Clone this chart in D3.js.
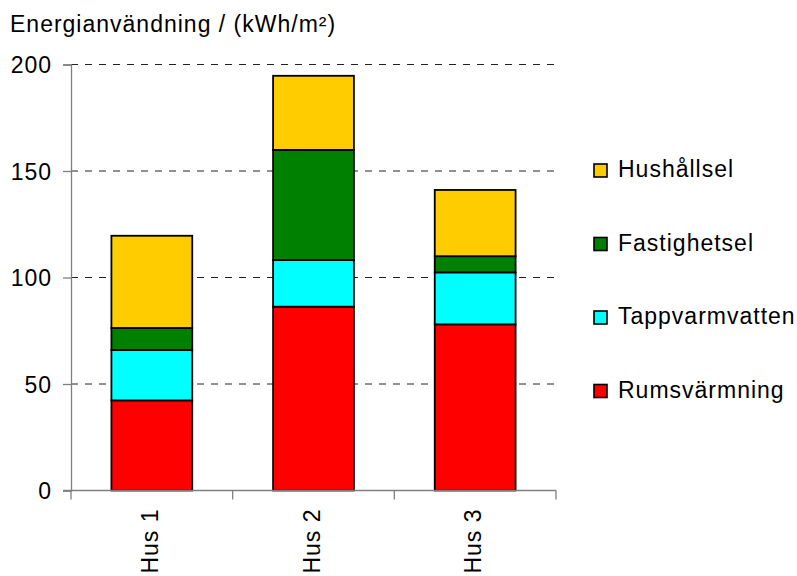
<!DOCTYPE html>
<html>
<head>
<meta charset="utf-8">
<script src="https://cdn.jsdelivr.net/npm/d3@7"></script>
<style>
  html, body { margin: 0; padding: 0; background: #fff; }
  svg { display: block; }
  text { font-family: "Liberation Sans", Arial, sans-serif; fill: #000; }
</style>
</head>
<body>
<svg id="chart" width="797" height="576"></svg>
<script>
// Energy use per house, kWh/m² per year
const categories = ["Hus 1", "Hus 2", "Hus 3"];
const seriesNames = ["Rumsvärmning", "Tappvarmvatten", "Fastighetsel", "Hushållsel"];
const rumsvarmning   = [42.3, 86.3, 78.0];
const tappvarmvatten = [23.7, 21.9, 24.4];
const fastighetsel   = [10.3, 51.7, 7.6];
const hushallsel     = [43.3, 34.8, 31.1];
const seriesColors = ["#FF0000", "#00FFFF", "#008000", "#FFCC00"];
const yTicks = [0, 50, 100, 150, 200];
const yTitle = "Energianvändning / (kWh/m²)";

const seriesValues = [rumsvarmning, tappvarmvatten, fastighetsel, hushallsel];
const rows = categories.map((c, i) => {
  const r = { cat: c };
  seriesNames.forEach((s, k) => { r[s] = seriesValues[k][i]; });
  return r;
});
const stacked = d3.stack().keys(seriesNames)(rows);

const svg = d3.select("#chart");
const FS = 23, LS = 1;

const plot = { left: 71, right: 556, top: 64.5, bottom: 490.5 };

const x = d3.scaleBand()
  .domain(categories)
  .range([plot.left, plot.right])
  .paddingInner(0.5)
  .paddingOuter(0.25);

const y = d3.scaleLinear()
  .domain([0, 200])
  .range([plot.bottom, plot.top]);

// dashed gridlines
svg.append("g")
  .selectAll("line")
  .data(yTicks.filter(t => t > 0))
  .join("line")
  .attr("x1", plot.left)
  .attr("x2", plot.right - 2)
  .attr("y1", d => y(d))
  .attr("y2", d => y(d))
  .attr("stroke", "#222")
  .attr("stroke-width", 1)
  .attr("stroke-dasharray", "7,7");

// stacked bars
svg.append("g")
  .selectAll("g")
  .data(stacked)
  .join("g")
  .attr("fill", (d, i) => seriesColors[i])
  .selectAll("rect")
  .data(d => d)
  .join("rect")
  .attr("x", d => x(d.data.cat))
  .attr("width", x.bandwidth())
  .attr("y", d => y(d[1]))
  .attr("height", d => y(d[0]) - y(d[1]))
  .attr("stroke", "#000")
  .attr("stroke-width", 1.8);

// y axis
const yAxis = svg.append("g")
  .attr("transform", `translate(${plot.left},0)`)
  .call(d3.axisLeft(y).tickValues(yTicks).tickSize(8).tickPadding(11).tickFormat(d3.format("d")));
yAxis.select(".domain").attr("stroke", "#808080").attr("stroke-width", 1.3);
yAxis.selectAll(".tick line").attr("stroke", "#808080").attr("stroke-width", 1.3);
yAxis.selectAll(".tick text")
  .attr("font-size", FS)
  .attr("letter-spacing", LS)
  .attr("font-family", '"Liberation Sans", Arial, sans-serif')
  .attr("fill", "#000")
  .attr("dy", "0.36em");

// x axis with ticks between categories
const xAxis = svg.append("g")
  .attr("transform", `translate(0,${plot.bottom})`);
xAxis.append("line")
  .attr("x1", plot.left - 8).attr("x2", plot.right)
  .attr("stroke", "#808080").attr("stroke-width", 1.3);
const bounds = [plot.left].concat(categories.map(c => x(c) + x.bandwidth() + x.step() * 0.25));
xAxis.selectAll("line.sep")
  .data(bounds)
  .join("line")
  .attr("class", "sep")
  .attr("x1", d => d).attr("x2", d => d)
  .attr("y1", 0).attr("y2", 9)
  .attr("stroke", "#808080").attr("stroke-width", 1.3);
xAxis.selectAll("text")
  .data(categories)
  .join("text")
  .attr("transform", d => `translate(${x(d) + x.bandwidth() / 2 + 6},18) rotate(-90)`)
  .attr("text-anchor", "end")
  .attr("font-size", FS)
  .attr("letter-spacing", LS)
  .text(d => d);

// axis title
svg.append("text")
  .attr("x", 10)
  .attr("y", 32)
  .attr("font-size", FS)
  .attr("letter-spacing", LS)
  .text(yTitle);

// legend, top entry is the top segment
const legendItems = seriesNames.map((s, i) => ({ name: s, color: seriesColors[i] })).reverse();
const legend = svg.append("g");
const lg = legend.selectAll("g")
  .data(legendItems)
  .join("g")
  .attr("transform", (d, i) => `translate(594,${177 + i * 73.5})`);
lg.append("rect")
  .attr("x", 0).attr("y", -13)
  .attr("width", 13).attr("height", 13)
  .attr("fill", d => d.color)
  .attr("stroke", "#000")
  .attr("stroke-width", 1.6);
lg.append("text")
  .attr("x", 24)
  .attr("y", 0)
  .attr("font-size", FS)
  .attr("letter-spacing", LS)
  .text(d => d.name);
</script>
</body>
</html>
